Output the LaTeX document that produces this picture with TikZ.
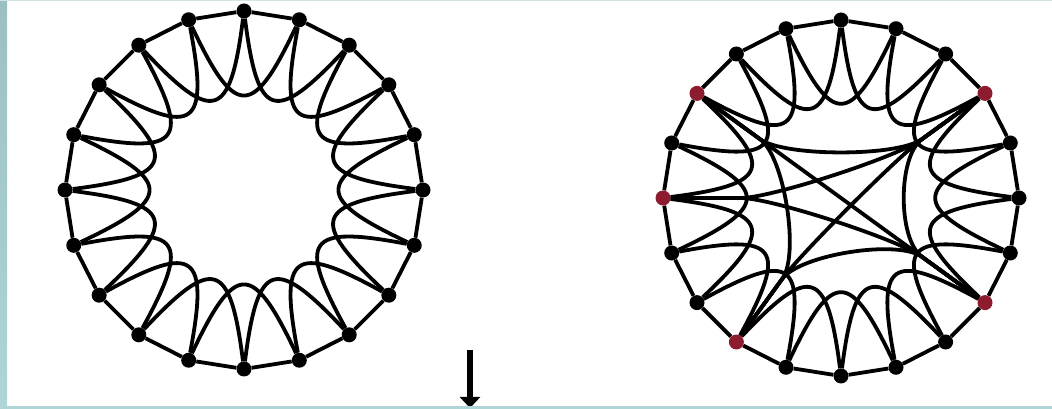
\documentclass[tikz,border=0pt]{standalone}
\usetikzlibrary{calc,arrows.meta}
\pgfdeclarelayer{back}
\pgfdeclarelayer{bg}
\pgfsetlayers{back,bg,main}
\definecolor{frametop}{HTML}{9CBFC3}
\definecolor{framebot}{HTML}{AFD5D7}
\definecolor{rednode}{HTML}{8C1C2E}
\tikzset{
  dot/.style={circle,fill=black,inner sep=0pt,minimum size=15pt},
  reddot/.style={dot,fill=rednode},
  link/.style={line width=3.8pt,black,line join=round},
  pointer/.style={line width=6pt,black,-{Triangle[width=20pt,length=11pt]}}
}
\begin{document}
\begin{tikzpicture}[x=1pt,y=1pt]
\useasboundingbox (0,0) rectangle (1052,409);
\begin{pgfonlayer}{back}
\fill[white] (0,0) rectangle (1052,409);
\end{pgfonlayer}

\coordinate (cL) at (244,219);
\coordinate (cR) at (841,211);

% left ring lattice nodes
\foreach \i in {0,...,19}{
  \node[dot] (L\i) at ($(cL)+(18*\i:179)$) {};
}
% right (rewired) nodes
\foreach \i in {0,1,3,4,5,6,7,9,11,12,14,15,16,17,19}{
  \node[dot] (R\i) at ($(cR)+(18*\i:178)$) {};
}
\foreach \i in {2,8,10,13,18}{
  \node[reddot] (R\i) at ($(cR)+(18*\i:178)$) {};
  \coordinate (H\i) at ($(cR)+(18*\i:100)$);
}

\begin{pgfonlayer}{bg}
\foreach \i in {0,...,19}{
  \pgfmathtruncatemacro\j{mod(\i+1,20)}
  \pgfmathtruncatemacro\k{mod(\i+2,20)}
  \draw[link] (L\i) -- (L\j);
  \draw[link] (L\i) .. controls ($(cL)+(18*\i+11:72)$) and ($(cL)+(18*\i+25:72)$) .. (L\k);
  \draw[link] (R\i) -- (R\j);
  \draw[link] (R\i) .. controls ($(cR)+(18*\i+11:72)$) and ($(cR)+(18*\i+25:72)$) .. (R\k);
}
% long-range (rewired) links, bundled near their red end nodes
\foreach \a/\b in {2/8,2/10,2/13,2/18,8/13,8/18,10/18,13/18}{
  \draw[link] (R\a) -- (H\a) .. controls ($(cR)+(18*\a:70)$) and ($(cR)+(18*\b:70)$) .. (H\b) -- (R\b);
}
\end{pgfonlayer}

% arrow
\coordinate (aTop) at (470,59);
\coordinate (aBot) at (470,1);
\draw[pointer] (aTop) -- (aBot);

% frame
\shade[top color=frametop,bottom color=framebot] (0,0) rectangle (7,409);
\fill[framebot] (0,0) rectangle (1052,2.5);
\fill[framebot!60] (0,408) rectangle (1052,409);
\end{tikzpicture}
\end{document}
